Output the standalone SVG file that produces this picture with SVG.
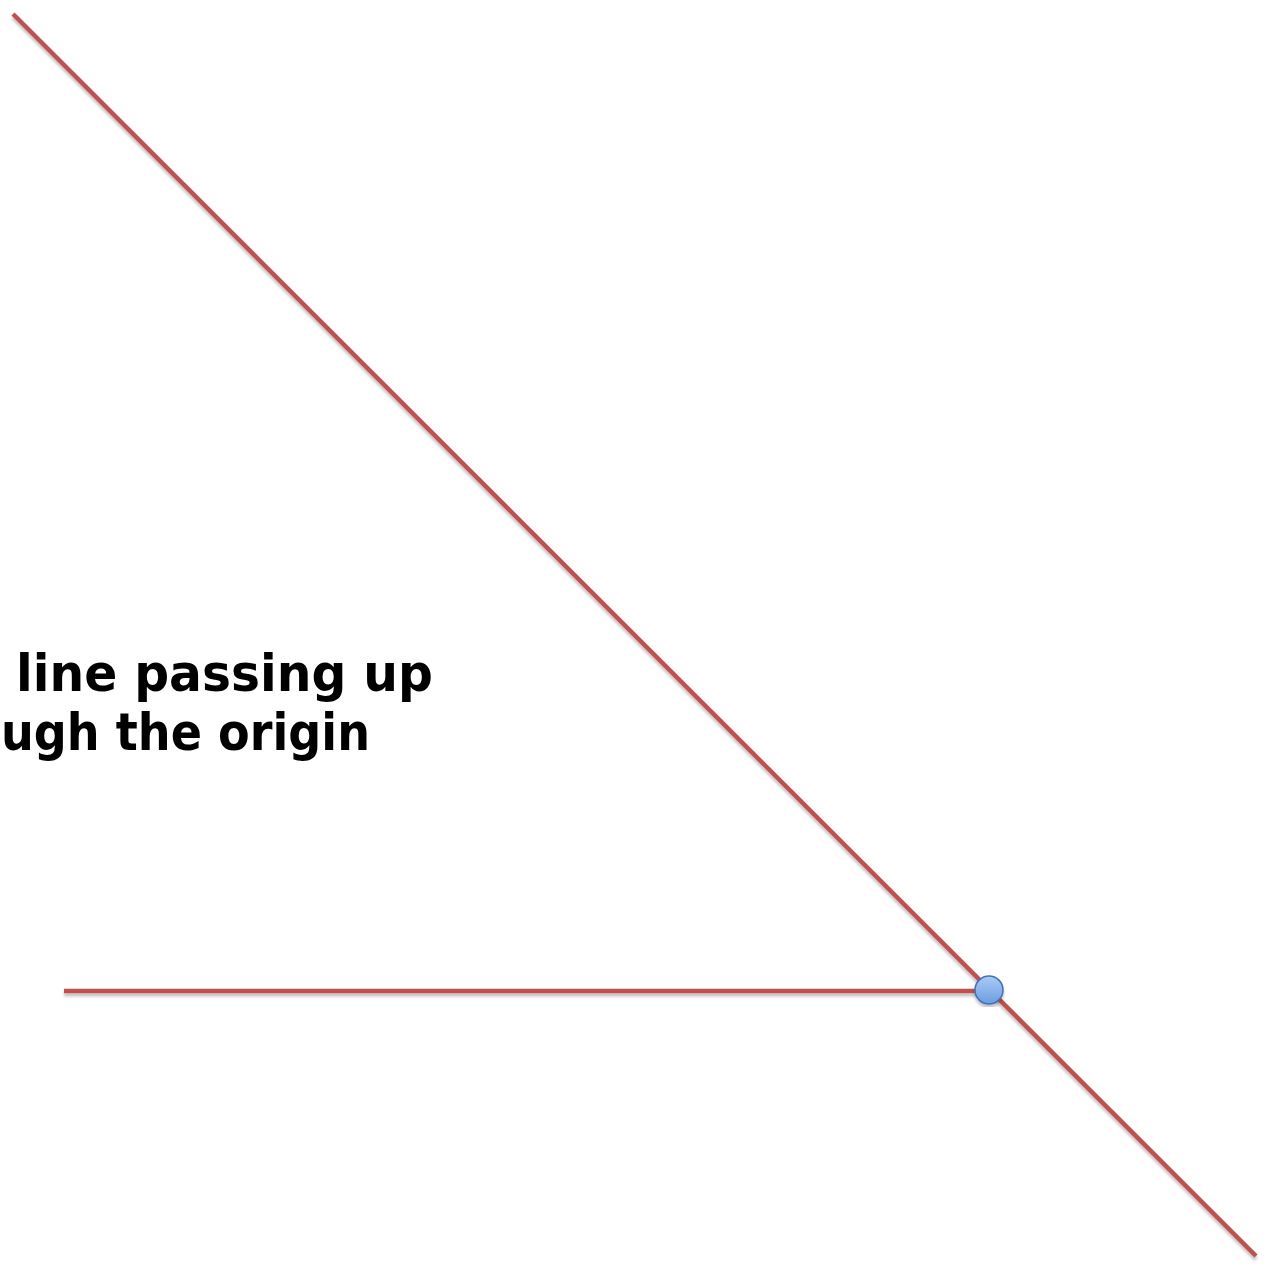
<svg xmlns="http://www.w3.org/2000/svg" width="1268" height="1269" viewBox="0 0 1268 1269">
  <defs>
    <filter id="shadow" x="-10%" y="-10%" width="120%" height="120%">
      <feDropShadow dx="0" dy="3" stdDeviation="1.5" flood-color="#000" flood-opacity="0.25"/>
    </filter>
    <linearGradient id="ball" x1="0" y1="0" x2="0" y2="1">
      <stop offset="0" stop-color="#a9cbf5"/>
      <stop offset="1" stop-color="#6b9de0"/>
    </linearGradient>
  </defs>
  <style>
    .ln { stroke: #c0504d; stroke-width: 4.5; fill: none; stroke-linecap: butt; }
    .lbl { font-family: "DejaVu Sans", "Liberation Sans", sans-serif; font-weight: bold; font-size: 51px; fill: #000; }
  </style>
  <rect width="1268" height="1269" fill="#ffffff"/>
  <g id="connectors" filter="url(#shadow)">
    <line class="ln" x1="13" y1="14" x2="1256" y2="1256"/>
    <line class="ln" x1="64" y1="991" x2="988" y2="991"/>
  </g>
  <g id="label">
    <text class="lbl" x="16" y="691" textLength="417" lengthAdjust="spacingAndGlyphs">line passing up</text>
    <text class="lbl" x="1" y="750" textLength="369" lengthAdjust="spacingAndGlyphs">ugh the origin</text>
  </g>
  <g id="origin" filter="url(#shadow)">
    <circle cx="989" cy="990" r="14" fill="url(#ball)" stroke="#3f72b8" stroke-width="1.5"/>
  </g>
</svg>
